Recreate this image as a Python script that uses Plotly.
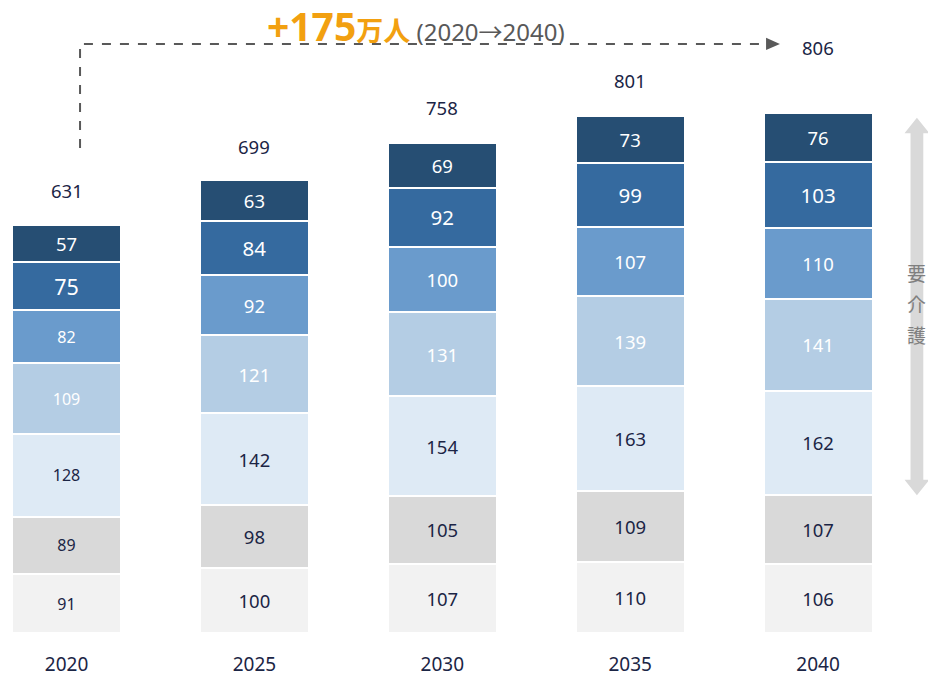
import plotly.graph_objects as go

# Care-need population projection (万人), stacked from the lightest level upward
years = ["2020", "2025", "2030", "2035", "2040"]
levels = ["要支援1", "要支援2", "要介護1", "要介護2", "要介護3", "要介護4", "要介護5"]
support1 = [91, 100, 107, 110, 106]
support2 = [89, 98, 105, 109, 107]
care1 = [128, 142, 154, 163, 162]
care2 = [109, 121, 131, 139, 141]
care3 = [82, 92, 100, 107, 110]
care4 = [75, 84, 92, 99, 103]
care5 = [57, 63, 69, 73, 76]
totals = [631, 699, 758, 801, 806]

series = [support1, support2, care1, care2, care3, care4, care5]
colors = ["#F2F2F2", "#D9D9D9", "#DEEAF5", "#B4CDE4", "#6A9BCC", "#356A9F", "#264E73"]
text_colors = ["#1B2545", "#1B2545", "#1B2545", "#FFFFFF", "#FFFFFF", "#FFFFFF", "#FFFFFF"]
base_sizes = [18.5, 18.5, 18.5, 18.5, 18.5, 20.5, 18.5]

FONT = "Noto Sans, Noto Sans CJK JP, sans-serif"
DARK = "#1B2545"
x_pos = list(range(len(years)))

fig = go.Figure()
for k, (name, vals, col, tcol, fs) in enumerate(zip(levels, series, colors, text_colors, base_sizes)):
    sizes = [fs] * len(vals)
    if k < 5:
        sizes[0] = 16  # first column's lower levels use a smaller label face
    elif k == 5:
        sizes[0] = 21.5
    fig.add_trace(go.Bar(
        x=x_pos, y=vals, name=name,
        marker=dict(color=col, line=dict(color="#FFFFFF", width=2)),
        text=[str(v) for v in vals],
        textposition="inside", insidetextanchor="middle",
        textfont=dict(color=tcol, size=sizes, family=FONT),
        hoverinfo="skip", showlegend=False,
    ))

# Growth bracket: from the first total up and across to the last one
bracket_y = 911
start_x = 0.072
head_tip = 3.797
head_base = 3.723
for i, t in enumerate(totals[:-1]):
    fig.add_annotation(x=x_pos[i], y=t, text=str(t), showarrow=False,
                       yanchor="bottom", yshift=21 if i == 2 else 20,
                       font=dict(size=18.5, color=DARK, family=FONT))
fig.add_annotation(x=x_pos[-1], y=bracket_y, text=str(totals[-1]), showarrow=False,
                   yanchor="middle", yshift=-4,
                   font=dict(size=18.5, color=DARK, family=FONT))

fig.add_shape(type="path",
              path=f"M {start_x} 750 L {start_x} {bracket_y} L {head_base} {bracket_y}",
              line=dict(color="#595959", width=2, dash="dash"))
fig.add_shape(type="path",
              path=f"M {head_base} {bracket_y - 9.5} L {head_tip} {bracket_y} L {head_base} {bracket_y + 9.5} Z",
              line=dict(color="#595959", width=0), fillcolor="#595959")

growth = totals[-1] - totals[0]
fig.add_annotation(
    x=1.86, y=940, yanchor="middle", yshift=0, showarrow=False,
    text=(f"<b><span style='font-size:39px'>+{growth}</span>"
          f"<span style='font-size:27px'>万人</span></b>"
          f"<span style='font-size:24px;color:#595959'>&nbsp;({years[0]}→{years[-1]})</span>"),
    font=dict(color="#F2A010", family=FONT),
)

# Double-headed bracket for the care levels
ax = 4.526
sw = 0.034
hw = 0.066
y_lo, y_hi = 213, 797
hl = 24
fig.add_shape(type="path", path=(
    f"M {ax} {y_hi} L {ax + hw} {y_hi - hl} L {ax + sw} {y_hi - hl} "
    f"L {ax + sw} {y_lo + hl} L {ax + hw} {y_lo + hl} L {ax} {y_lo} "
    f"L {ax - hw} {y_lo + hl} L {ax - sw} {y_lo + hl} L {ax - sw} {y_hi - hl} "
    f"L {ax - hw} {y_hi - hl} Z"),
    line=dict(width=0), fillcolor="#D9D9D9", layer="below")
label_mid = (y_lo + y_hi) / 2
for j, ch in enumerate("要介護"):
    fig.add_annotation(x=ax, y=label_mid + 50 - 48 * j, text=ch, showarrow=False,
                       font=dict(size=19, color="#7F7F7F", family=FONT))

fig.update_layout(
    width=928, height=677,
    margin=dict(l=0, r=0, t=0, b=44),
    barmode="stack", bargap=0.42,
    plot_bgcolor="#FFFFFF", paper_bgcolor="#FFFFFF",
    xaxis=dict(range=[-0.354, 4.585], tickvals=x_pos, ticktext=years,
               showgrid=False, zeroline=False, showline=False, ticks="",
               ticklabelstandoff=18,
               tickfont=dict(size=19, color=DARK, family=FONT)),
    yaxis=dict(range=[0, 979], visible=False, showgrid=False),
)

fig.write_html("out.html")
